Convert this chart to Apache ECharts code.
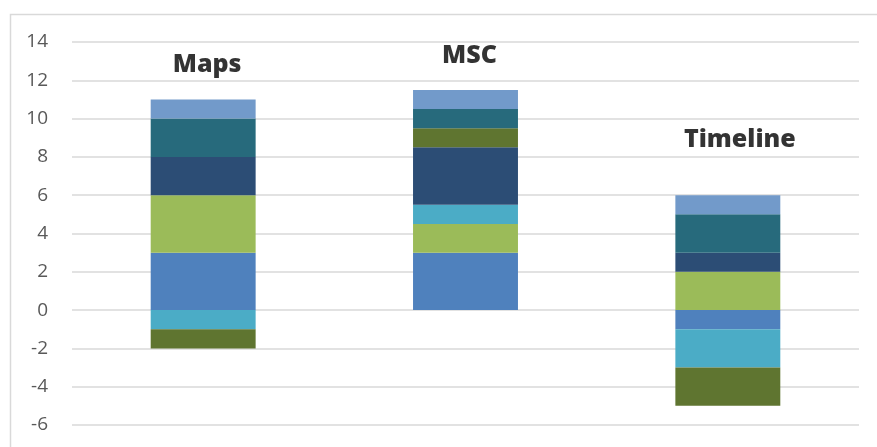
<!DOCTYPE html>
<html lang="en">
<head>
    <meta charset="UTF-8">
    <title>Stacked bars</title>
    <script src="https://cdn.jsdelivr.net/npm/echarts@6/dist/echarts.min.js"></script>
    <style>
        html, body { margin: 0; padding: 0; background: #fff; }
        #chart { width: 877px; height: 447px; }
    </style>
</head>
<body>
    <div id="chart"></div>
    <script>
        // data
        var categories = ['Maps', 'MSC', 'Timeline'];
        var yTicks = [-6, -4, -2, 0, 2, 4, 6, 8, 10, 12, 14];

        var s1 = [3, 3, -1];     // blue
        var s2 = [3, 1.5, 2];    // light green
        var s3 = [-1, 1, -2];    // cyan
        var s4 = [2, 3, 1];      // dark blue
        var s5 = [-1, 1, -2];    // olive
        var s6 = [2, 1, 2];      // teal
        var s7 = [1, 1, 1];      // light blue

        // where the titles sit on the value axis
        var titleY = [12.8, 13.3, 8.9];

        var seriesData = [s1, s2, s3, s4, s5, s6, s7];
        var colors = ['#4F81BD', '#9BBB59', '#4BACC6', '#2C4D75', '#5F7530', '#276A7C', '#729ACA'];
        var titleShift = [4, 4, 12];

        var chart = echarts.init(document.getElementById('chart'));

        var series = seriesData.map(function (d, i) {
            return {
                name: 'S' + (i + 1),
                type: 'bar',
                stack: 'all',
                barWidth: '40%',
                data: d,
                itemStyle: { color: colors[i] },
                animation: false
            };
        });

        series.push({
            name: 'titles',
            type: 'scatter',
            symbolSize: 0,
            silent: true,
            animation: false,
            data: titleY.map(function (v, i) {
                return {
                    value: v,
                    label: { offset: [titleShift[i], 0] }
                };
            }),
            label: {
                show: true,
                position: 'inside',
                formatter: function (p) { return categories[p.dataIndex]; },
                color: '#000',
                fontFamily: 'Open Sans',
                fontWeight: 800,
                fontSize: 25
            }
        });

        var option = {
            backgroundColor: '#fff',
            grid: { left: 72, right: 18, top: 42, bottom: 22, containLabel: false },
            graphic: [{
                type: 'rect',
                left: 8, top: 12,
                shape: { width: 900, height: 460 },
                style: { fill: 'none', stroke: '#d9d9d9', lineWidth: 1.5 },
                silent: true
            }],
            xAxis: {
                type: 'category',
                data: categories,
                axisLine: { show: false },
                axisTick: { show: false },
                axisLabel: { show: false }
            },
            yAxis: {
                type: 'value',
                min: yTicks[0],
                max: yTicks[yTicks.length - 1],
                interval: 2,
                axisLine: { show: false },
                axisTick: { show: false },
                axisLabel: {
                    color: '#595959',
                    fontFamily: 'Open Sans',
                    fontSize: 19,
                    margin: 24
                },
                splitLine: { lineStyle: { color: '#d9d9d9', width: 1.5 } }
            },
            series: series
        };

        chart.setOption(option);
    </script>
</body>
</html>
